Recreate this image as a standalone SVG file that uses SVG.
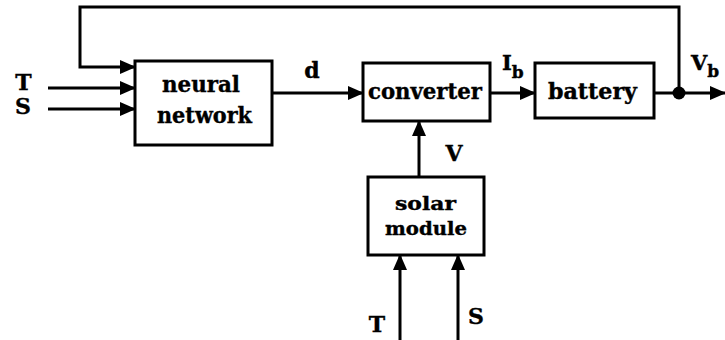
<svg xmlns="http://www.w3.org/2000/svg" width="725" height="340" viewBox="0 0 725 340">
  <style>
    .box { fill: #ffffff; stroke: #000000; stroke-width: 3; }
    .wire { fill: none; stroke: #000000; stroke-width: 3; }
    .t { font-family: "DejaVu Serif", "Liberation Serif", serif; font-weight: bold; fill: #000000; stroke: #000000; stroke-width: 0.4; }
    .bt { font-size: 22px; text-anchor: middle; }
    .sm { font-size: 19px; text-anchor: middle; }
    .lb { font-size: 22px; text-anchor: middle; }
    .sub { font-size: 17px; }
  </style>
  <defs>
    <marker id="arrow" markerUnits="userSpaceOnUse" markerWidth="16" markerHeight="14" refX="15" refY="7" orient="auto">
      <path d="M0,0 L16,7 L0,14 z" fill="#000000"/>
    </marker>
  </defs>
  <rect width="725" height="340" fill="#ffffff"/>

  <g id="connectors">
    <path class="wire" d="M679,93 V7 H80 V67 H135" marker-end="url(#arrow)"/>
    <path class="wire" d="M48,88 H135" marker-end="url(#arrow)"/>
    <path class="wire" d="M48,109 H135" marker-end="url(#arrow)"/>
    <path class="wire" d="M272,93 H363" marker-end="url(#arrow)"/>
    <path class="wire" d="M490,93 H535" marker-end="url(#arrow)"/>
    <path class="wire" d="M654,93 H725" marker-end="url(#arrow)"/>
    <circle cx="679" cy="93" r="6.5" fill="#000000"/>
    <path class="wire" d="M419,177 V121" marker-end="url(#arrow)"/>
    <path class="wire" d="M400,340 V255" marker-end="url(#arrow)"/>
    <path class="wire" d="M458,340 V255" marker-end="url(#arrow)"/>
  </g>

  <g id="neural-network">
    <rect class="box" x="135" y="61" width="137" height="84"/>
    <text class="t bt" x="201" y="92" textLength="78" lengthAdjust="spacingAndGlyphs">neural</text>
    <text class="t bt" x="204.5" y="123" textLength="95" lengthAdjust="spacingAndGlyphs">network</text>
  </g>

  <g id="converter">
    <rect class="box" x="363" y="63" width="127" height="58"/>
    <text class="t bt" x="425" y="99" textLength="114" lengthAdjust="spacingAndGlyphs">converter</text>
  </g>

  <g id="battery">
    <rect class="box" x="535" y="63" width="119" height="55"/>
    <text class="t bt" x="592.5" y="99" textLength="89" lengthAdjust="spacingAndGlyphs">battery</text>
  </g>

  <g id="solar-module">
    <rect class="box" x="368" y="177" width="116" height="78"/>
    <text class="t sm" x="425.5" y="210" textLength="61" lengthAdjust="spacingAndGlyphs">solar</text>
    <text class="t sm" x="426" y="235" textLength="82" lengthAdjust="spacingAndGlyphs">module</text>
  </g>

  <g id="labels">
    <text class="t lb" x="23.5" y="90">T</text>
    <text class="t lb" x="23" y="114">S</text>
    <text class="t lb" x="312" y="78">d</text>
    <text class="t" font-size="21" x="502" y="70">I<tspan class="sub" dy="8">b</tspan></text>
    <text class="t" font-size="21" x="691" y="70">V<tspan class="sub" dy="7">b</tspan></text>
    <text class="t lb" x="454" y="161">V</text>
    <text class="t lb" x="377" y="332">T</text>
    <text class="t lb" x="476" y="324">S</text>
  </g>
</svg>
